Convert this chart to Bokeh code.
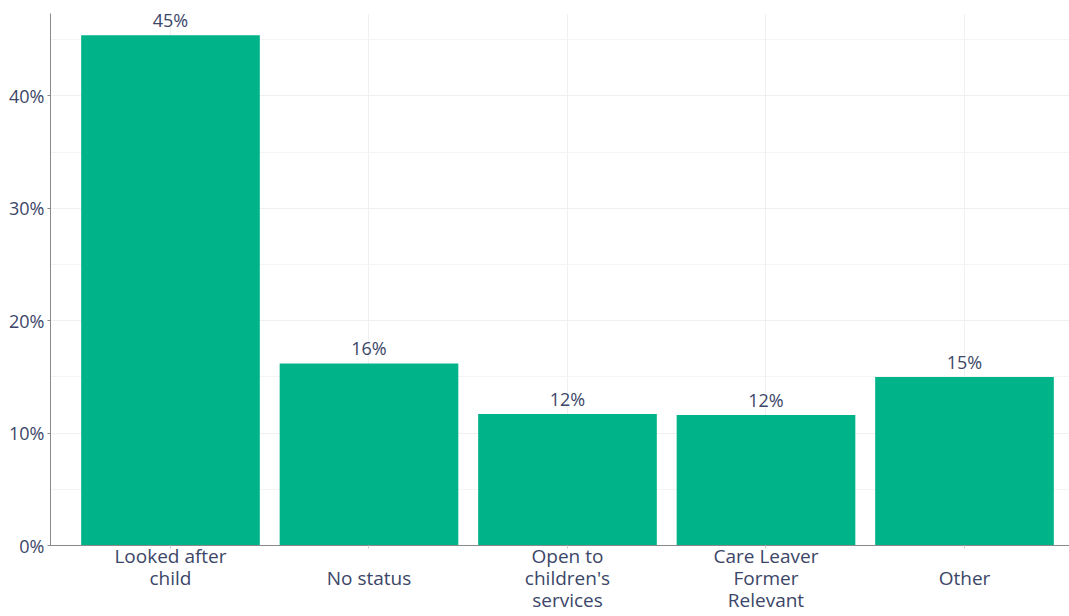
from bokeh.plotting import figure
from bokeh.models import Range1d, FixedTicker, PrintfTickFormatter, ColumnDataSource
from bokeh.core.properties import value
from bokeh.embed import file_html
from bokeh.resources import INLINE

categories = ["Looked after child", "No status", "Open to children's services",
              "Care Leaver Former Relevant", "Other"]
tick_labels = ["Looked after\nchild", "\nNo status", "Open to\nchildren's\nservices",
               "Care Leaver\nFormer\nRelevant", "\nOther"]
values = [45.4, 16.2, 11.7, 11.6, 15.0]
y_ticks = [0, 10, 20, 30, 40]
y_minor = [5, 15, 25, 35, 45]

FONT = "Open Sans"
TXT = "#3b4668"
BAR = "#00b388"

xs = list(range(len(categories)))
src = ColumnDataSource(dict(x=xs, top=values, cat=categories,
                            lab=[f"{round(v):d}%" for v in values]))

p = figure(width=1069, height=616, output_backend="svg", toolbar_location=None,
           x_range=Range1d(-0.6045, 4.529), y_range=Range1d(0, 47.33),
           min_border_left=50, min_border_right=0, min_border_top=13, min_border_bottom=67)
p.outline_line_color = None

p.vbar(x="x", top="top", width=0.9, source=src, fill_color=BAR, line_color=None)
p.text(x="x", y="top", text="lab", source=src, text_align="center", text_baseline="bottom",
       y_offset=-3, text_font=value(FONT), text_font_size="18px", text_color=TXT)

# x axis
p.xaxis.ticker = FixedTicker(ticks=xs)
p.xaxis.major_label_overrides = {i: t for i, t in enumerate(tick_labels)}
p.xaxis.major_label_text_font = FONT
p.xaxis.major_label_text_font_size = "19px"
p.xaxis.major_label_text_color = TXT
p.xaxis.major_label_text_line_height = 0.86
p.xaxis.axis_line_color = "#8a8a8a"
p.xaxis.major_tick_line_color = "#cccccc"
p.xaxis.major_tick_in = 0
p.xaxis.major_tick_out = 3
p.xaxis.minor_tick_line_color = None
p.xaxis.major_label_standoff = -6

# y axis
p.yaxis.ticker = FixedTicker(ticks=y_ticks, minor_ticks=y_minor)
p.yaxis.formatter = PrintfTickFormatter(format="%d%%")
p.yaxis.major_label_text_font = FONT
p.yaxis.major_label_text_font_size = "18px"
p.yaxis.major_label_text_color = TXT
p.yaxis.axis_line_color = "#8a8a8a"
p.yaxis.major_tick_line_color = "#8a8a8a"
p.yaxis.major_tick_in = 0
p.yaxis.major_tick_out = 3
p.yaxis.minor_tick_line_color = None
p.yaxis.major_label_standoff = 2

p.xgrid.ticker = FixedTicker(ticks=xs)
p.xgrid.grid_line_color = "#f0f0f0"
p.ygrid.grid_line_color = "#f0f0f0"
p.ygrid.minor_grid_line_color = "#f4f4f4"

open("out.html", "w").write(file_html(p, INLINE))
